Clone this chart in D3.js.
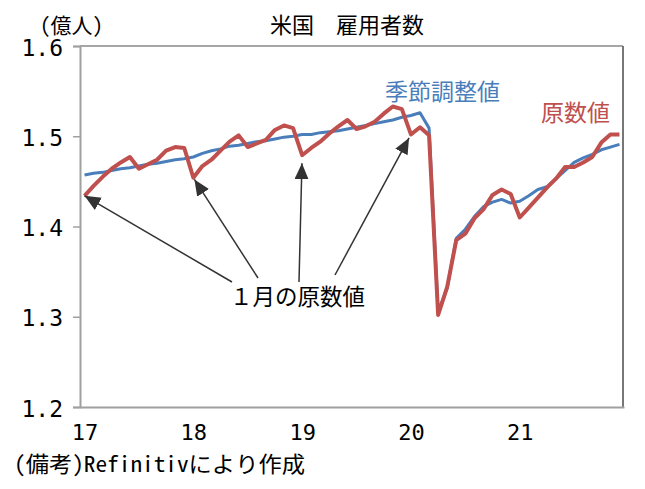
<!DOCTYPE html>
<html>
<head>
<meta charset="utf-8">
<script src="https://cdn.jsdelivr.net/npm/d3@7"></script>
<style>
  body { margin: 0; background: #fff; }
  svg { display: block; }
  text { font-family: "Noto Sans Mono CJK JP", "Noto Sans CJK JP", "DejaVu Sans Mono", monospace; fill: #000; }
</style>
</head>
<body>
<div id="chart"></div>
<script>
// 米国 雇用者数 (億人), 2017/1 - 2021/12
var years = ["17", "18", "19", "20", "21"];

// 季節調整値
var sa = [
  1.457, 1.459, 1.460, 1.462, 1.464, 1.465, 1.467, 1.469, 1.470, 1.472, 1.474, 1.475,
  1.477, 1.481, 1.484, 1.486, 1.489, 1.490, 1.492, 1.494, 1.495, 1.497, 1.499, 1.500,
  1.502, 1.502, 1.504, 1.505, 1.506, 1.508, 1.510, 1.512, 1.514, 1.516, 1.518, 1.521,
  1.523, 1.526, 1.509, 1.305, 1.332, 1.387, 1.397, 1.411, 1.422, 1.427, 1.430, 1.426,
  1.428, 1.434, 1.441, 1.444, 1.453, 1.462, 1.471, 1.476, 1.480, 1.485, 1.488, 1.491
];

// 原数値
var nsa = [
  1.434, 1.445, 1.455, 1.464, 1.471, 1.477, 1.464, 1.469, 1.474, 1.484, 1.488, 1.487,
  1.454, 1.467, 1.474, 1.484, 1.494, 1.501, 1.488, 1.492, 1.496, 1.507, 1.512, 1.509,
  1.479, 1.487, 1.494, 1.503, 1.511, 1.518, 1.508, 1.511, 1.516, 1.525, 1.533, 1.530,
  1.502, 1.510, 1.501, 1.302, 1.333, 1.385, 1.392, 1.409, 1.419, 1.435, 1.441, 1.436,
  1.410, 1.421, 1.432, 1.443, 1.453, 1.466, 1.466, 1.471, 1.477, 1.493, 1.502, 1.502
];

var yTicks = [1.2, 1.3, 1.4, 1.5, 1.6];

// 1月の原数値 の矢印 (month index, text-side start point, gap at tip)
var janArrows = [
  { i: 0,  sx: 232, sy: 282, gap: 0 },
  { i: 12, sx: 258, sy: 278, gap: 2 },
  { i: 24, sx: 299, sy: 282, gap: 8 },
  { i: 36, sx: 335, sy: 275, gap: 4 }
];

var W = 645, H = 489;
var plotL = 80, plotR = 623, plotT = 46, plotB = 407;

var svg = d3.select("#chart").append("svg")
  .attr("width", W)
  .attr("height", H);

var x = d3.scaleLinear().domain([-0.5, nsa.length - 0.5]).range([plotL, plotR + 1]);
var y = d3.scaleLinear().domain([1.2, 1.6]).range([plotB, plotT]);

var defs = svg.append("defs");
defs.append("marker")
  .attr("id", "head")
  .attr("markerUnits", "userSpaceOnUse")
  .attr("markerWidth", 17)
  .attr("markerHeight", 15)
  .attr("refX", 16)
  .attr("refY", 7)
  .attr("orient", "auto")
  .append("path")
  .attr("d", "M0,0 L16,7 L0,14 Z")
  .attr("fill", "#333");

// frame
svg.append("line")
  .attr("x1", plotL).attr("x2", plotR).attr("y1", plotT).attr("y2", plotT)
  .attr("stroke", "#888").attr("stroke-width", 1.5);
svg.append("line")
  .attr("x1", plotR).attr("x2", plotR).attr("y1", plotT).attr("y2", plotB)
  .attr("stroke", "#777").attr("stroke-width", 2);

// y axis
var yAxis = svg.append("g")
  .attr("transform", "translate(" + plotL + ",0)")
  .call(d3.axisLeft(y).tickValues(yTicks).tickSize(7).tickFormat(function(d) { return d3.format(".1f")(d); }));
yAxis.select(".domain").attr("stroke", "#a0a0a0").attr("stroke-width", 2);
yAxis.selectAll(".tick line").attr("stroke", "#a0a0a0").attr("stroke-width", 1.5);
yAxis.selectAll(".tick text")
  .attr("x", -17)
  .attr("dy", "0.4em")
  .attr("font-size", 23)
  .style("font-family", "'DejaVu Sans Mono', monospace")
  .attr("fill", "#000");

// x axis
var xAxis = svg.append("g")
  .attr("transform", "translate(0," + plotB + ")")
  .call(d3.axisBottom(x).tickValues(years.map(function(d, k) { return k * 12; })).tickSize(0)
    .tickFormat(function(d) { return years[d / 12]; }));
xAxis.select(".domain").attr("stroke", "#a0a0a0").attr("stroke-width", 2);
xAxis.selectAll(".tick text")
  .attr("y", 17)
  .attr("font-size", 22)
  .style("font-family", "'DejaVu Sans Mono', monospace")
  .attr("fill", "#000");

// lines
var line = d3.line()
  .x(function(d, i) { return x(i); })
  .y(function(d) { return y(d); });

svg.append("path")
  .datum(sa)
  .attr("d", line)
  .attr("fill", "none")
  .attr("stroke", "#4a7ebb")
  .attr("stroke-width", 3)
  .attr("stroke-linejoin", "round");

svg.append("path")
  .datum(nsa)
  .attr("d", line)
  .attr("fill", "none")
  .attr("stroke", "#c0504d")
  .attr("stroke-width", 4)
  .attr("stroke-linejoin", "round");

// arrows
svg.selectAll(".arrow")
  .data(janArrows)
  .enter().append("line")
  .attr("class", "arrow")
  .each(function(a) {
    var px = x(a.i), py = y(nsa[a.i]);
    var dx = a.sx - px, dy = a.sy - py, len = Math.sqrt(dx * dx + dy * dy);
    d3.select(this)
      .attr("x1", a.sx).attr("y1", a.sy)
      .attr("x2", px + dx / len * a.gap)
      .attr("y2", py + dy / len * a.gap);
  })
  .attr("stroke", "#333")
  .attr("stroke-width", 1.5)
  .attr("marker-end", "url(#head)");

// texts
svg.append("text")
  .attr("x", 347).attr("y", 33)
  .attr("text-anchor", "middle")
  .attr("font-size", 22)
  .text("米国　雇用者数");

svg.append("text")
  .attr("x", 40).attr("y", 33)
  .attr("font-size", 21)
  .text("(億人)");

svg.append("text")
  .attr("x", 385).attr("y", 100)
  .attr("font-size", 23)
  .style("fill", "#4a7ebb")
  .text("季節調整値");

svg.append("text")
  .attr("x", 541).attr("y", 121)
  .attr("font-size", 23)
  .style("fill", "#c0504d")
  .text("原数値");

svg.append("text")
  .attr("x", 230).attr("y", 305)
  .attr("font-size", 22.5)
  .text("１月の原数値");

svg.append("text")
  .attr("x", 14).attr("y", 472)
  .attr("font-size", 22)
  .attr("textLength", 291)
  .attr("lengthAdjust", "spacingAndGlyphs")
  .text("(備考)Refinitivにより作成");
</script>
</body>
</html>
